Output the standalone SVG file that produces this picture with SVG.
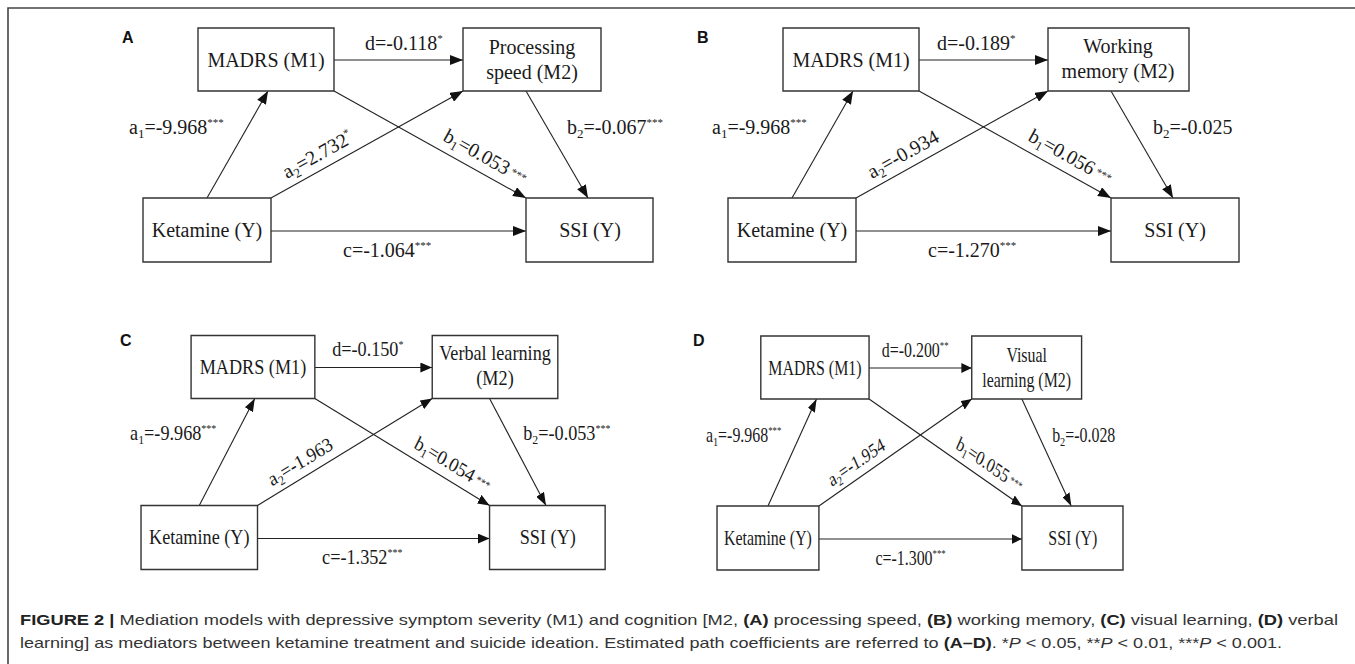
<svg xmlns="http://www.w3.org/2000/svg" width="1355" height="664" viewBox="0 0 1355 664">
<defs>
<marker id="arrow" markerUnits="userSpaceOnUse" markerWidth="13" markerHeight="10" refX="13" refY="5" orient="auto">
<path d="M0,0 L13,5 L0,10 z" fill="#111"/>
</marker>
<style>
.frame{fill:none;stroke:#444;stroke-width:1.6}
.box{fill:#fff;stroke:#333;stroke-width:1.4;vector-effect:non-scaling-stroke}
.edge{fill:none;stroke:#222;stroke-width:1.1;marker-end:url(#arrow);vector-effect:non-scaling-stroke}
.t{font-family:"Liberation Serif","Times New Roman",serif;font-size:20px;fill:#1a1a1a}
.mid{text-anchor:middle}
.sub{font-size:13px}
.sup{font-size:11px}
.pl{font-family:"Liberation Sans",Arial,sans-serif;font-weight:bold;font-size:16px;fill:#111}
.cap{font-family:"Liberation Sans",Arial,sans-serif;font-size:15px;fill:#333}
.b{font-weight:bold;fill:#222}
.i{font-style:italic}
</style>
</defs>
<rect width="1355" height="664" fill="#fff"/>
<path class="frame" d="M8,664 V8 H1355"/>

<text class="pl" x="122" y="43">A</text>
<text class="pl" x="697" y="43">B</text>
<text class="pl" x="120" y="346">C</text>
<text class="pl" x="693" y="346">D</text>

<!-- Panel A -->
<g id="panelA">
<g id="A-connectors">
<path class="edge" d="M334,60H463"/>
<path class="edge" d="M207,198L268,91"/>
<path class="edge" d="M271,198L463,91"/>
<path class="edge" d="M334,91L526,198"/>
<path class="edge" d="M526,91L588,198"/>
<path class="edge" d="M271,231H526"/>
<text class="t" x="365" y="50">d=-0.118<tspan class="sup" dy="-8">*</tspan></text>
<text class="t" x="129" y="134">a<tspan class="sub" dy="4">1</tspan><tspan dy="-4">=-9.968</tspan><tspan class="sup" dy="-8">***</tspan></text>
<text class="t" transform="translate(287,179) rotate(-29.1)">a<tspan class="sub" dy="4">2</tspan><tspan dy="-4">=2.732</tspan><tspan class="sup" dy="-8">*</tspan></text>
<text class="t" transform="translate(442,140) rotate(29.1)">b<tspan class="sub" dy="4">1</tspan><tspan dy="-4">=0.053</tspan><tspan class="sup" dx="3" dy="-3">***</tspan></text>
<text class="t" x="567" y="134">b<tspan class="sub" dy="4">2</tspan><tspan dy="-4">=-0.067</tspan><tspan class="sup" dy="-8">***</tspan></text>
<text class="t" x="343" y="257">c=-1.064<tspan class="sup" dy="-8">***</tspan></text>
</g>
<g id="A-madrs"><rect class="box" x="198" y="28" width="136" height="63"/><text class="t mid" x="266" y="67">MADRS (M1)</text></g>
<g id="A-m2"><rect class="box" x="463" y="28" width="138" height="63"/><text class="t mid" x="532" y="54">Processing</text><text class="t mid" x="532" y="79">speed (M2)</text></g>
<g id="A-ketamine"><rect class="box" x="143" y="198" width="128" height="64"/><text class="t mid" x="207" y="237">Ketamine (Y)</text></g>
<g id="A-ssi"><rect class="box" x="526" y="198" width="127" height="64"/><text class="t mid" x="590" y="237">SSI (Y)</text></g>
</g>

<!-- Panel B -->
<g id="panelB" transform="translate(585,0)">
<g id="B-connectors">
<path class="edge" d="M334,60H463"/>
<path class="edge" d="M207,198L268,91"/>
<path class="edge" d="M271,198L463,91"/>
<path class="edge" d="M334,91L526,198"/>
<path class="edge" d="M526,91L588,198"/>
<path class="edge" d="M271,231H526"/>
<text class="t" x="352" y="50">d=-0.189<tspan class="sup" dy="-8">*</tspan></text>
<text class="t" x="127" y="134">a<tspan class="sub" dy="4">1</tspan><tspan dy="-4">=-9.968</tspan><tspan class="sup" dy="-8">***</tspan></text>
<text class="t" transform="translate(287,179) rotate(-29.1)">a<tspan class="sub" dy="4">2</tspan><tspan dy="-4">=-0.934</tspan></text>
<text class="t" transform="translate(442,140) rotate(29.1)">b<tspan class="sub" dy="4">1</tspan><tspan dy="-4">=0.056</tspan><tspan class="sup" dx="3" dy="-3">***</tspan></text>
<text class="t" x="568" y="134">b<tspan class="sub" dy="4">2</tspan><tspan dy="-4">=-0.025</tspan></text>
<text class="t" x="343" y="257">c=-1.270<tspan class="sup" dy="-8">***</tspan></text>
</g>
<g id="B-madrs"><rect class="box" x="198" y="28" width="136" height="63"/><text class="t mid" x="266" y="67">MADRS (M1)</text></g>
<g id="B-m2"><rect class="box" x="463" y="28" width="141" height="63"/><text class="t mid" x="533" y="53">Working</text><text class="t mid" x="533" y="78">memory (M2)</text></g>
<g id="B-ketamine"><rect class="box" x="143" y="198" width="128" height="64"/><text class="t mid" x="207" y="237">Ketamine (Y)</text></g>
<g id="B-ssi"><rect class="box" x="526" y="198" width="128" height="64"/><text class="t mid" x="590" y="237">SSI (Y)</text></g>
</g>

<!-- Panel C -->
<g id="panelC" transform="translate(10.9,307.5) scale(0.91,1)">
<g id="C-connectors">
<path class="edge" d="M334,60H463"/>
<path class="edge" d="M207,198L268,91"/>
<path class="edge" d="M271,198L463,91"/>
<path class="edge" d="M334,91L526,198"/>
<path class="edge" d="M526,91L588,198"/>
<path class="edge" d="M271,231H526"/>
<text class="t" x="353" y="49">d=-0.150<tspan class="sup" dy="-8">*</tspan></text>
<text class="t" x="131" y="133">a<tspan class="sub" dy="4">1</tspan><tspan dy="-4">=-9.968</tspan><tspan class="sup" dy="-8">***</tspan></text>
<text class="t" transform="translate(287,179) rotate(-29.1)">a<tspan class="sub" dy="4">2</tspan><tspan dy="-4">=-1.963</tspan></text>
<text class="t" transform="translate(442,140) rotate(29.1)">b<tspan class="sub" dy="4">1</tspan><tspan dy="-4">=0.054</tspan><tspan class="sup" dx="3" dy="-3">***</tspan></text>
<text class="t" x="563" y="133">b<tspan class="sub" dy="4">2</tspan><tspan dy="-4">=-0.053</tspan><tspan class="sup" dy="-8">***</tspan></text>
<text class="t" x="342" y="257">c=-1.352<tspan class="sup" dy="-8">***</tspan></text>
</g>
<g id="C-madrs"><rect class="box" x="198" y="28" width="136" height="63"/><text class="t mid" x="266" y="67">MADRS (M1)</text></g>
<g id="C-m2"><rect class="box" x="463" y="28" width="138" height="63"/><text class="t mid" x="532" y="53">Verbal learning</text><text class="t mid" x="532" y="78">(M2)</text></g>
<g id="C-ketamine"><rect class="box" x="143" y="198" width="128" height="64"/><text class="t mid" x="207" y="237">Ketamine (Y)</text></g>
<g id="C-ssi"><rect class="box" x="526" y="198" width="127" height="64"/><text class="t mid" x="590" y="237">SSI (Y)</text></g>
</g>

<!-- Panel D -->
<g id="panelD" transform="translate(603.2,308) scale(0.796,1)">
<g id="D-connectors">
<path class="edge" d="M334,60H463"/>
<path class="edge" d="M207,198L268,91"/>
<path class="edge" d="M271,198L463,91"/>
<path class="edge" d="M334,91L526,198"/>
<path class="edge" d="M526,91L588,198"/>
<path class="edge" d="M271,231H526"/>
<text class="t" x="350" y="49">d=-0.200<tspan class="sup" dy="-8">**</tspan></text>
<text class="t" x="129" y="134">a<tspan class="sub" dy="4">1</tspan><tspan dy="-4">=-9.968</tspan><tspan class="sup" dy="-8">***</tspan></text>
<text class="t" transform="translate(287,179) rotate(-29.1)">a<tspan class="sub" dy="4">2</tspan><tspan dy="-4">=-1.954</tspan></text>
<text class="t" transform="translate(442,140) rotate(29.1)">b<tspan class="sub" dy="4">1</tspan><tspan dy="-4">=0.055</tspan><tspan class="sup" dx="3" dy="-3">***</tspan></text>
<text class="t" x="564" y="134">b<tspan class="sub" dy="4">2</tspan><tspan dy="-4">=-0.028</tspan></text>
<text class="t" x="342" y="257">c=-1.300<tspan class="sup" dy="-8">***</tspan></text>
</g>
<g id="D-madrs"><rect class="box" x="198" y="28" width="136" height="63"/><text class="t mid" x="266" y="67">MADRS (M1)</text></g>
<g id="D-m2"><rect class="box" x="463" y="28" width="138" height="63"/><text class="t mid" x="532" y="54">Visual</text><text class="t mid" x="532" y="79">learning (M2)</text></g>
<g id="D-ketamine"><rect class="box" x="143" y="198" width="128" height="64"/><text class="t mid" x="207" y="237">Ketamine (Y)</text></g>
<g id="D-ssi"><rect class="box" x="526" y="198" width="127" height="64"/><text class="t mid" x="590" y="237">SSI (Y)</text></g>
</g>

<!-- Caption -->
<text class="cap" x="20" y="625" textLength="1318" lengthAdjust="spacingAndGlyphs"><tspan class="b">FIGURE 2 |</tspan> Mediation models with depressive symptom severity (M1) and cognition [M2, <tspan class="b">(A)</tspan> processing speed, <tspan class="b">(B)</tspan> working memory, <tspan class="b">(C)</tspan> visual learning, <tspan class="b">(D)</tspan> verbal</text>
<text class="cap" x="20" y="648" textLength="1262" lengthAdjust="spacingAndGlyphs">learning] as mediators between ketamine treatment and suicide ideation. Estimated path coefficients are referred to <tspan class="b">(A–D)</tspan>. *<tspan class="i">P</tspan> &lt; 0.05, **<tspan class="i">P</tspan> &lt; 0.01, ***<tspan class="i">P</tspan> &lt; 0.001.</text>
</svg>
